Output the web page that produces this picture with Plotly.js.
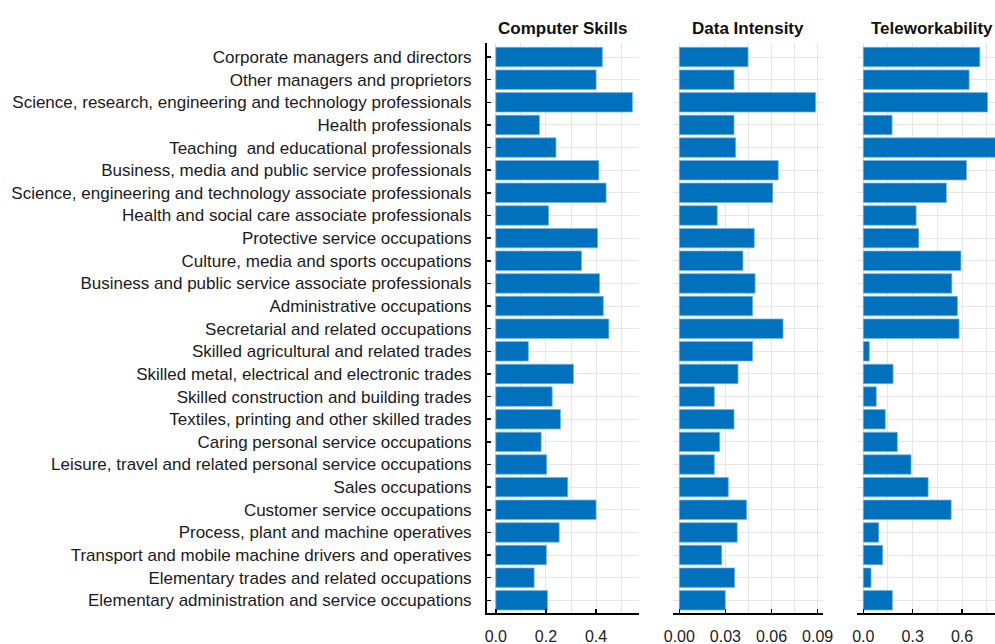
<!DOCTYPE html>
<html>
<head>
<meta charset="utf-8">
<script src="https://cdn.plot.ly/plotly-3.0.1.min.js"></script>
<style>
html, body { margin: 0; padding: 0; overflow: hidden; background: #fff; }
#chart { width: 1010px; height: 644px; }
</style>
</head>
<body>
<div id="chart"></div>
<script>
const categories = [
  "Corporate managers and directors",
  "Other managers and proprietors",
  "Science, research, engineering and technology professionals",
  "Health professionals",
  "Teaching\u00a0 and educational professionals",
  "Business, media and public service professionals",
  "Science, engineering and technology associate professionals",
  "Health and social care associate professionals",
  "Protective service occupations",
  "Culture, media and sports occupations",
  "Business and public service associate professionals",
  "Administrative occupations",
  "Secretarial and related occupations",
  "Skilled agricultural and related trades",
  "Skilled metal, electrical and electronic trades",
  "Skilled construction and building trades",
  "Textiles, printing and other skilled trades",
  "Caring personal service occupations",
  "Leisure, travel and related personal service occupations",
  "Sales occupations",
  "Customer service occupations",
  "Process, plant and machine operatives",
  "Transport and mobile machine drivers and operatives",
  "Elementary trades and related occupations",
  "Elementary administration and service occupations"
];

const computerSkills = [0.425, 0.400, 0.545, 0.174, 0.240, 0.411, 0.440, 0.211, 0.406, 0.342,
  0.414, 0.429, 0.451, 0.130, 0.310, 0.225, 0.258, 0.181, 0.203, 0.287,
  0.400, 0.253, 0.202, 0.153, 0.206];

const dataIntensity = [0.0447, 0.0356, 0.0887, 0.0356, 0.0367, 0.0644, 0.0608, 0.0247, 0.0488, 0.0414,
  0.0493, 0.0477, 0.0675, 0.0477, 0.0382, 0.0228, 0.0356, 0.0263, 0.0228, 0.0319,
  0.0438, 0.0377, 0.0276, 0.0360, 0.0299];

const teleworkability = [0.708, 0.643, 0.755, 0.175, 0.850, 0.627, 0.505, 0.321, 0.337, 0.593,
  0.538, 0.572, 0.582, 0.037, 0.181, 0.079, 0.134, 0.207, 0.290, 0.394,
  0.534, 0.094, 0.118, 0.047, 0.177];

const panelTitles = ["Computer Skills", "Data Intensity", "Teleworkability"];

const barColor = "#0072BD";
const gridColor = "#e6e6e6";
const font = "Liberation Sans, Arial, sans-serif";

function barTrace(values, xa, ya) {
  return {
    type: "bar",
    orientation: "h",
    x: values,
    y: categories,
    xaxis: xa,
    yaxis: ya,
    marker: { color: barColor, line: { color: "rgba(120,180,225,0.9)", width: 0.8 } },
    hoverinfo: "x+y",
    showlegend: false
  };
}

const data = [
  barTrace(computerSkills, "x", "y"),
  barTrace(dataIntensity, "x2", "y2"),
  barTrace(teleworkability, "x3", "y3")
];

const W = 1010, L = 487, R = 3;
const PW = W - L - R;
const d1 = [0, (638.7 - L) / PW];
const d2 = [(672.7 - L) / PW, (822.7 - L) / PW];
const d3 = [(856.7 - L) / PW, 1];

function xAxis(domain, range, dtick, minor, fmt, anchor) {
  return {
    domain: domain,
    anchor: anchor,
    range: range,
    dtick: dtick,
    tick0: 0,
    tickformat: fmt,
    showgrid: true,
    gridcolor: gridColor,
    gridwidth: 1,
    minor: { dtick: minor, tick0: 0, showgrid: true, gridcolor: gridColor, gridwidth: 1, ticks: "" },
    zeroline: false,
    showline: true,
    linecolor: "#000",
    linewidth: 2,
    ticks: "inside",
    ticklen: 4,
    tickwidth: 1.5,
    tickcolor: "#000",
    ticklabelstandoff: 8,
    tickfont: { family: font, size: 16, color: "#222" },
    fixedrange: true
  };
}

function yAxis(domainAnchor, showLabels) {
  return {
    anchor: domainAnchor,
    type: "category",
    range: [24.56, -0.62],
    showgrid: true,
    gridcolor: gridColor,
    gridwidth: 1,
    zeroline: false,
    showline: showLabels,
    linecolor: "#000",
    linewidth: 2,
    ticks: showLabels ? "inside" : "",
    ticklen: 4,
    tickwidth: 1.5,
    tickcolor: "#000",
    showticklabels: showLabels,
    ticklabelstandoff: 10,
    tickfont: { family: font, size: 17, color: "#1a1a1a" },
    fixedrange: true
  };
}

const H = 644, T = 43, B = 31.3;
const PH = H - T - B;

const annotations = panelTitles.map((t, i) => {
  const d = [d1, d2, d3][i];
  return {
    text: "<b>" + t + "</b>",
    xref: "paper", yref: "paper",
    x: (d[0] + d[1]) / 2,
    y: 1 + 14 / PH,
    xanchor: "center", yanchor: "middle",
    showarrow: false,
    font: { family: font, size: 17, color: "#111" }
  };
});

const layout = {
  width: W,
  height: H,
  margin: { l: L, r: R, t: T, b: B },
  paper_bgcolor: "#fff",
  plot_bgcolor: "#fff",
  bargap: 0.14,
  xaxis: xAxis(d1, [-0.035, 0.57], 0.2, 0.1, ".1f", "y"),
  xaxis2: xAxis(d2, [-0.0043, 0.0933], 0.03, 0.015, ".2f", "y2"),
  xaxis3: xAxis(d3, [-0.04, 0.873], 0.3, 0.15, ".1f", "y3"),
  yaxis: yAxis("x", true),
  yaxis2: yAxis("x2", false),
  yaxis3: yAxis("x3", false),
  annotations: annotations
};

Plotly.newPlot("chart", data, layout, { displayModeBar: false, staticPlot: true });
</script>
</body>
</html>
